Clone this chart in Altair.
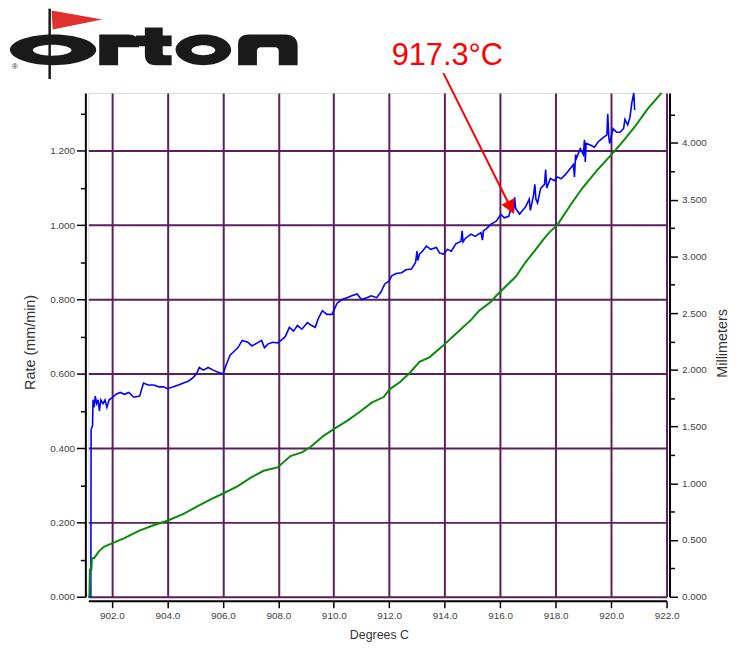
import altair as alt
import pandas as pd

# ---------------- data ----------------
# Rate curve (blue, left axis, mm/min) vs temperature (deg C)
rate_temp = [901.15, 901.24, 901.25, 901.30, 901.32, 901.36, 901.40, 901.45, 901.50, 901.55,
             901.60, 901.68, 901.75, 901.82, 901.90, 902.00, 902.15, 902.30, 902.45, 902.61,
             902.79, 903.00, 903.14, 903.30, 903.50, 903.70, 903.86, 904.00, 904.22, 904.40,
             904.58, 904.75, 904.93, 905.05, 905.15, 905.30, 905.47, 905.65, 905.83, 906.01,
             906.15, 906.26, 906.40, 906.54, 906.70, 906.90, 907.05, 907.26, 907.40, 907.50,
             907.62, 907.80, 907.97, 908.10, 908.25, 908.40, 908.55, 908.69, 908.85, 909.05,
             909.20, 909.33, 909.45, 909.59, 909.75, 909.94, 910.12, 910.30, 910.48, 910.65,
             910.84, 911.00, 911.19, 911.35, 911.55, 911.70, 911.84, 912.00, 912.09, 912.25,
             912.45, 912.60, 912.80, 912.95, 913.00, 913.03, 913.09, 913.20, 913.34, 913.50,
             913.70, 913.82, 913.95, 914.10, 914.24, 914.40, 914.59, 914.63, 914.66, 914.75,
             914.95, 915.10, 915.31, 915.36, 915.40, 915.50, 915.67, 915.85, 916.03, 916.15,
             916.31, 916.45, 916.48, 916.52, 916.56, 916.70, 916.92, 917.05, 917.09, 917.21,
             917.25, 917.29, 917.35, 917.46, 917.60, 917.64, 917.68, 917.81, 917.95, 918.06,
             918.20, 918.35, 918.50, 918.64, 918.68, 918.72, 918.75, 918.89, 919.00, 919.04,
             919.07, 919.10, 919.25, 919.40, 919.53, 919.70, 919.85, 919.88, 919.92, 919.95,
             920.07, 920.20, 920.32, 920.45, 920.50, 920.60, 920.68, 920.75, 920.82, 920.85]
rate_val = [0.000, 0.000, 0.450, 0.460, 0.530, 0.510, 0.540, 0.520, 0.530, 0.500,
            0.530, 0.520, 0.530, 0.510, 0.530, 0.535, 0.545, 0.550, 0.545, 0.550,
            0.537, 0.540, 0.575, 0.570, 0.570, 0.565, 0.565, 0.560, 0.565, 0.570,
            0.575, 0.580, 0.590, 0.600, 0.617, 0.610, 0.617, 0.610, 0.604, 0.600,
            0.630, 0.650, 0.660, 0.670, 0.690, 0.685, 0.675, 0.684, 0.690, 0.670,
            0.680, 0.685, 0.683, 0.690, 0.700, 0.725, 0.715, 0.730, 0.720, 0.738,
            0.730, 0.725, 0.750, 0.770, 0.760, 0.760, 0.790, 0.800, 0.805, 0.810,
            0.815, 0.800, 0.805, 0.810, 0.805, 0.820, 0.842, 0.850, 0.864, 0.870,
            0.872, 0.880, 0.882, 0.900, 0.930, 0.905, 0.922, 0.930, 0.944, 0.935,
            0.940, 0.925, 0.922, 0.935, 0.930, 0.950, 0.957, 0.985, 0.955, 0.965,
            0.976, 0.970, 0.980, 0.960, 0.985, 0.990, 1.003, 1.010, 1.029, 1.020,
            1.024, 1.060, 1.035, 1.075, 1.045, 1.030, 1.050, 1.070, 1.040, 1.083,
            1.110, 1.070, 1.060, 1.099, 1.110, 1.150, 1.100, 1.126, 1.120, 1.130,
            1.125, 1.136, 1.150, 1.163, 1.130, 1.190, 1.180, 1.206, 1.190, 1.230,
            1.170, 1.220, 1.216, 1.210, 1.224, 1.235, 1.243, 1.300, 1.235, 1.220,
            1.260, 1.250, 1.250, 1.260, 1.285, 1.270, 1.290, 1.330, 1.356, 1.310]

# Displacement curve (green, right axis, mm) vs temperature (deg C)
mm_temp = [901.15, 901.19, 901.21, 901.26, 901.28, 901.36, 901.53, 901.71, 902.00, 902.43,
           902.97, 903.50, 904.00, 904.58, 905.11, 905.58, 906.01, 906.54, 907.01, 907.47,
           907.97, 908.44, 908.87, 909.16, 909.59, 910.01, 910.48, 910.94, 911.37, 911.80,
           912.02, 912.38, 912.73, 913.09, 913.45, 913.88, 914.24, 914.59, 914.95, 915.24,
           915.67, 915.85, 916.31, 916.56, 916.92, 917.28, 917.56, 917.81, 918.06, 918.53,
           918.96, 919.50, 920.03, 920.45, 920.85, 921.32, 921.82]
mm_val = [0.00, 0.00, 0.24, 0.24, 0.34, 0.34, 0.40, 0.44, 0.47, 0.515,
          0.58, 0.63, 0.67, 0.73, 0.80, 0.86, 0.91, 0.975, 1.05, 1.11,
          1.14, 1.24, 1.275, 1.32, 1.41, 1.48, 1.55, 1.63, 1.71, 1.76,
          1.83, 1.89, 1.97, 2.07, 2.11, 2.20, 2.28, 2.36, 2.44, 2.52,
          2.60, 2.65, 2.76, 2.82, 2.95, 3.06, 3.15, 3.22, 3.275, 3.45,
          3.60, 3.76, 3.90, 4.02, 4.14, 4.30, 4.44]

x_domain = [901.15, 922.0]
rate_domain = [0, 1.356]
mm_domain = [0, 4.44]
x_ticks = list(range(902, 923))
rate_ticks = [round(i * 0.1, 1) for i in range(14)]
mm_ticks = [i * 0.25 for i in range(18)]

x_title = "Degrees C"
rate_title = "Rate (mm/min)"
mm_title = "Millimeters"
annotation_text = "917.3°C"

# ---------------- styling ----------------
PURPLE = "#5a1f5c"
FONT = "Liberation Sans"
W, H = 583, 508

rate_df = pd.DataFrame({"temp": rate_temp, "rate": rate_val})
mm_df = pd.DataFrame({"temp": mm_temp, "mm": mm_val})
one = pd.DataFrame({"k": [0]})

x_enc = alt.X(
    "temp:Q",
    scale=alt.Scale(domain=x_domain, nice=False, zero=False),
    axis=alt.Axis(
        values=x_ticks, title=x_title, orient="bottom", offset=4,
        labelExpr="round(datum.value) % 2 == 0 ? format(datum.value, '.1f') : ''",
        tickSize={"condition": {"test": "round(datum.value) % 2 == 0", "value": 7}, "value": 4},
        grid=True, gridColor=PURPLE, gridWidth=2,
        gridOpacity={"condition": {"test": "round(datum.value) % 2 == 0", "value": 1}, "value": 0},
        domainColor="black", domainWidth=2, tickColor="black", tickWidth=1.5,
        labelPadding=3, labelFontSize=10, labelColor="#444", labelFont=FONT,
        labelFlush=False, labelOverlap=False, labelBound=False,
        titleFont=FONT, titleFontSize=12.5, titleFontWeight="normal", titleColor="#333",
        titleX=293, titleY=34, titleAlign="center", titleBaseline="middle",
    ),
)

blue = alt.Chart(rate_df).mark_line(color="#0000ff", strokeWidth=1.6).encode(
    x=x_enc,
    y=alt.Y(
        "rate:Q",
        scale=alt.Scale(domain=rate_domain, nice=False, zero=True),
        axis=alt.Axis(
            values=rate_ticks, title=rate_title, orient="left", offset=3,
            labelExpr="round(datum.value * 10) % 2 == 0 ? format(datum.value, '.3f') : ''",
            tickSize={"condition": {"test": "round(datum.value * 10) % 2 == 0", "value": 9}, "value": 5},
            grid=True, gridColor=PURPLE, gridWidth=2,
            gridOpacity={"condition": {"test": "round(datum.value * 10) % 2 == 0", "value": 1}, "value": 0},
            domainColor="black", domainWidth=2, tickColor="black", tickWidth=1.5,
            labelPadding=2, labelFontSize=10, labelColor="#444", labelFont=FONT,
            labelFlush=False, labelOverlap=False, labelBound=False,
            titleFont=FONT, titleFontSize=14.5, titleFontWeight="normal", titleColor="#333",
            titleAngle=270, titleX=-55, titleY=251, titleAlign="center", titleBaseline="middle",
        ),
    ),
)

green = alt.Chart(mm_df).mark_line(color="#0a8a0a", strokeWidth=2).encode(
    x=alt.X("temp:Q", scale=alt.Scale(domain=x_domain, nice=False, zero=False)),
    y=alt.Y(
        "mm:Q",
        scale=alt.Scale(domain=mm_domain, nice=False, zero=True),
        axis=alt.Axis(
            values=mm_ticks, title=mm_title, orient="right", offset=3,
            labelExpr="round(datum.value * 4) % 2 == 0 ? format(datum.value, '.3f') : ''",
            tickSize={"condition": {"test": "round(datum.value * 4) % 2 == 0", "value": 8}, "value": 5},
            grid=False,
            domainColor="black", domainWidth=2, tickColor="black", tickWidth=1.5,
            labelPadding=4, labelFontSize=10, labelColor="#444", labelFont=FONT,
            labelFlush=False, labelOverlap=False, labelBound=False,
            titleFont=FONT, titleFontSize=14.5, titleFontWeight="normal", titleColor="#333",
            titleAngle=270, titleX=53, titleY=252, titleAlign="center", titleBaseline="middle",
        ),
    ),
)

# ---------------- annotation (pixel positions relative to plot origin) ----------------
ann_text = alt.Chart(one).mark_text(
    text=annotation_text, color="#ff0000", font=FONT, fontSize=31,
    align="center", baseline="alphabetic",
).encode(x=alt.value(362), y=alt.value(-28))

ann_line = alt.Chart(one).mark_rule(color="#ff0000", strokeWidth=2).encode(
    x=alt.value(358), y=alt.value(-20), x2=alt.value(424), y2=alt.value(112)
)

ann_head = alt.Chart(one).mark_point(
    shape="M0,0L-0.626,-0.469L0,-0.783Z", filled=True, color="#ff0000",
    opacity=1, size=1600, strokeWidth=0,
).encode(x=alt.value(429), y=alt.value(122))

# ---------------- Orton logo (symbol paths drawn in page pixels, size=4 -> unit scale) ----------------
LOGO_BLACK = (
    "M10,47.5A43.5,15.5,0,1,0,97,47.5A43.5,15.5,0,1,0,10,47.5Z"
    "M100,32H129Q140,32,140,42V45H119V63H100Z"
    "M146,25H164V33H173V44H164V51Q164,53,166,53H173V63H157Q146,63,146,52V44H137V33H146Z"
    "M177,47.5A28,15.5,0,1,0,233,47.5A28,15.5,0,1,0,177,47.5Z"
    "M240,63V42Q240,32,251,32H287Q300,32,300,44V63H281V49Q281,45,277,45H263Q259,45,259,49V63Z"
)
LOGO_HOLES = (
    "M33,48A19.5,5.5,0,1,1,72,48A19.5,5.5,0,1,1,33,48Z"
    "M193,48A12,5,0,1,1,217,48A12,5,0,1,1,193,48Z"
)
FLAG = "M52,8L103,17L53,27Z"

logo = alt.Chart(one).mark_point(
    shape=LOGO_BLACK, filled=True, color="#1a1a1a", opacity=1, size=4, strokeWidth=0,
).encode(x=alt.value(-89), y=alt.value(-91))
holes = alt.Chart(one).mark_point(
    shape=LOGO_HOLES, filled=True, color="#ffffff", opacity=1, size=4, strokeWidth=0,
).encode(x=alt.value(-89), y=alt.value(-91))
flag = alt.Chart(one).mark_point(
    shape=FLAG, filled=True, color="#e0312f", opacity=1, size=4, strokeWidth=0,
).encode(x=alt.value(-89), y=alt.value(-91))
pole = alt.Chart(one).mark_rule(color="#1a1a1a", strokeWidth=2.5).encode(
    x=alt.value(-39), y=alt.value(-85), y2=alt.value(-14)
)
reg = alt.Chart(one).mark_text(
    text="®", font=FONT, fontSize=8, color="#1a1a1a", align="center", baseline="middle",
).encode(x=alt.value(-74), y=alt.value(-26))

chart = (
    alt.layer(blue, green, ann_line, ann_head, ann_text,
              logo, holes, pole, flag, reg)
    .resolve_scale(y="independent")
    .properties(
        width=W, height=H,
        autosize=alt.AutoSizeParams(type="none"),
        padding={"left": 81, "top": 83, "right": 66, "bottom": 46},
    )
    .configure_view(stroke=PURPLE, strokeWidth=2)
    .configure(background="white")
)

chart.save("out.html", embed_options={"renderer": "svg", "actions": False})
